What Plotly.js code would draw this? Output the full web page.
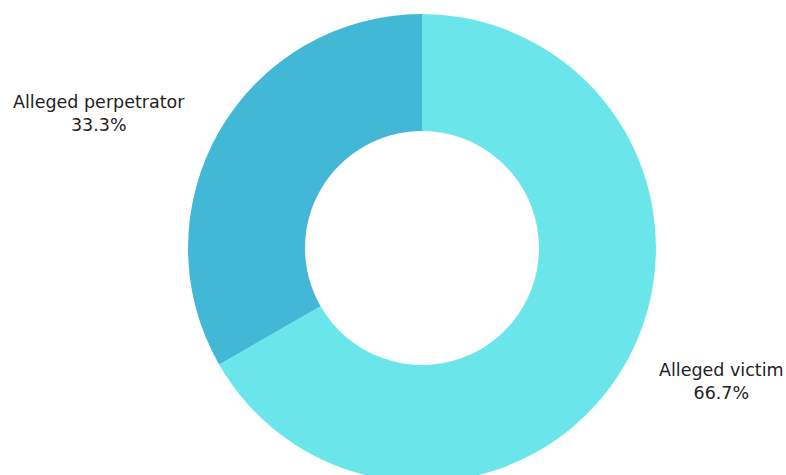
<!DOCTYPE html>
<html>
<head>
<meta charset="utf-8">
<script src="https://cdn.plot.ly/plotly-3.0.1.min.js"></script>
<style>
html,body{margin:0;padding:0;overflow:hidden;background:#fff;}
#chart{width:786px;height:482px;}
</style>
</head>
<body>
<div id="chart"></div>
<script>
const labels = ["Alleged victim", "Alleged perpetrator"];
const values = [66.7, 33.3];
const colors = ["#6ae5e9", "#43b8d6"];

const trace = {
  type: "pie",
  labels: labels,
  values: values,
  hole: 0.5,
  sort: false,
  direction: "clockwise",
  rotation: 0,
  marker: {colors: colors, line: {width: 0}},
  textinfo: "none",
  automargin: false,
  domain: {x: [0.2392, 0.8346], y: [0, 1]},
  showlegend: false
};

const total = values.reduce((a, b) => a + b, 0);
const labelPos = [
  {x: 721 / 786, y: (482 - 381.5) / 468},
  {x: 98.5 / 786, y: (482 - 113) / 468}
];
const annotations = labels.map((lab, i) => ({
  xref: "paper", yref: "paper",
  x: labelPos[i].x, y: labelPos[i].y,
  xanchor: "center", yanchor: "middle",
  showarrow: false,
  align: "center",
  text: lab + "<br>" + (values[i] / total * 100).toFixed(1) + "%",
  font: {family: "DejaVu Sans, sans-serif", size: 17.5, color: "#222"}
}));

const layout = {
  width: 786,
  height: 482,
  margin: {l: 0, r: 0, t: 14, b: 0},
  paper_bgcolor: "#fff",
  plot_bgcolor: "#fff",
  showlegend: false,
  annotations: annotations
};

Plotly.newPlot("chart", [trace], layout, {displayModeBar: false, staticPlot: true});
</script>
</body>
</html>
